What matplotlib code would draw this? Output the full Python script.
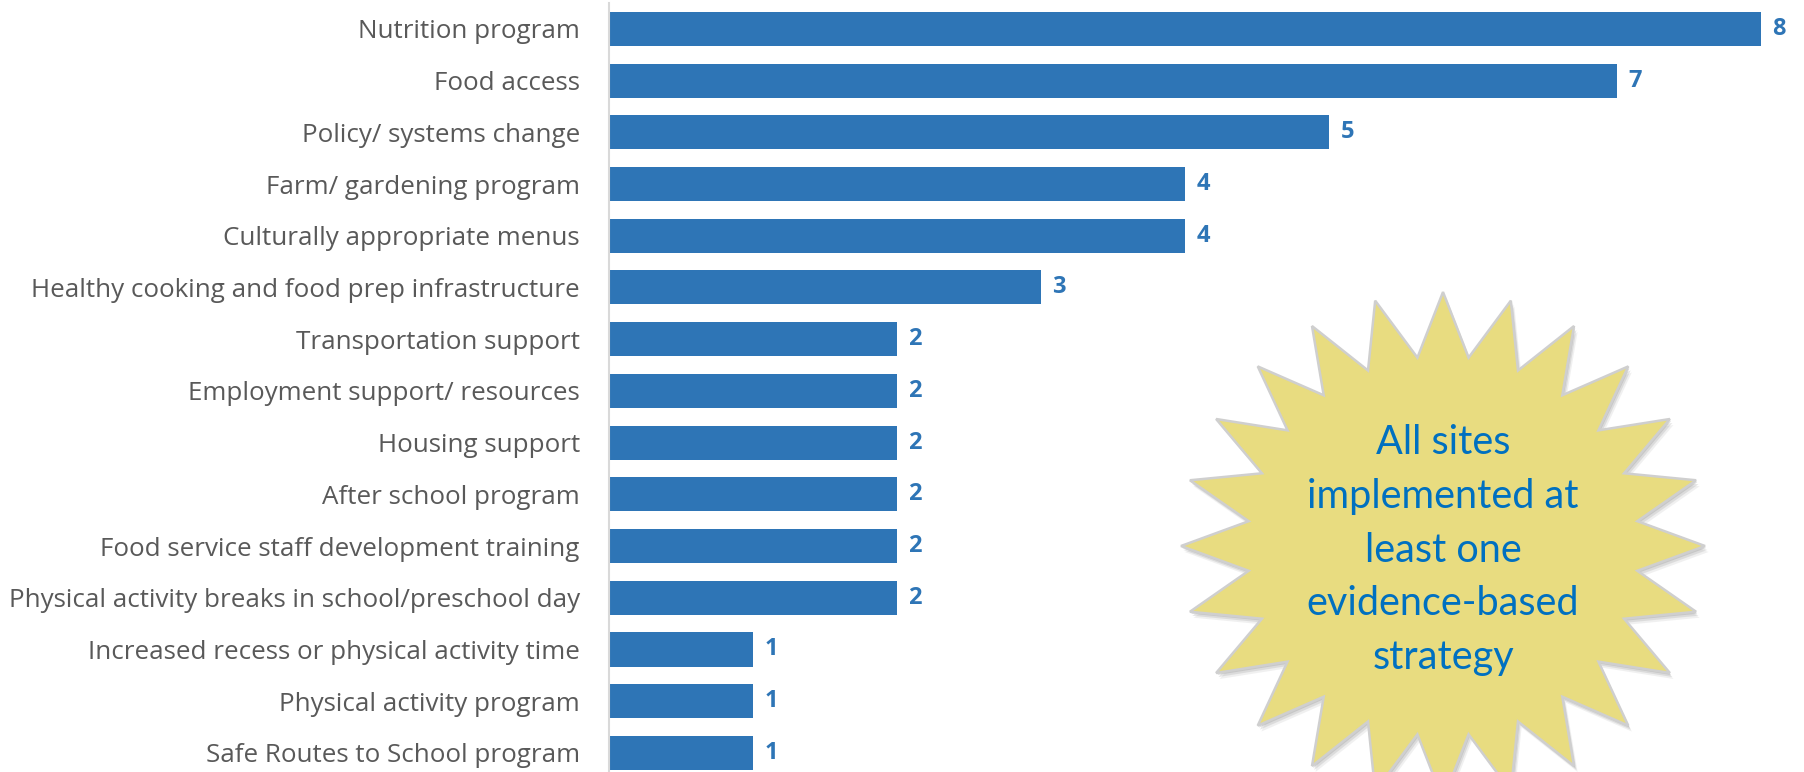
import numpy as np
import matplotlib
matplotlib.use("Agg")
import matplotlib.pyplot as plt
from matplotlib.patches import Polygon

categories = [
    "Nutrition program",
    "Food access",
    "Policy/ systems change",
    "Farm/ gardening program",
    "Culturally appropriate menus",
    "Healthy cooking and food prep infrastructure",
    "Transportation support",
    "Employment support/ resources",
    "Housing support",
    "After school program",
    "Food service staff development training",
    "Physical activity breaks in school/preschool day",
    "Increased recess or physical activity time",
    "Physical activity program",
    "Safe Routes to School program",
]
counts = [8, 7, 5, 4, 4, 3, 2, 2, 2, 2, 2, 2, 1, 1, 1]
star_text = "All sites\nimplemented at\nleast one\nevidence-based\nstrategy"

W, H = 1804, 772
bar_color = "#2E75B6"
label_color = "#595959"

fig = plt.figure(figsize=(W / 100, H / 100), dpi=100)
ax = fig.add_axes([609 / W, 0, (1804 - 609) / W, 769 / H])

y = np.arange(len(categories))
ax.barh(y, counts, height=0.66, color=bar_color)
for yi, v in zip(y, counts):
    ax.text(v + 0.08, yi, str(v), va="center", ha="left", fontsize=17,
            fontweight="bold", color=bar_color, family="Open Sans")

ax.set_xlim(0, 8.3)
ax.set_ylim(14.37, -0.5)
ax.set_yticks(y)
ax.set_yticklabels(categories, fontsize=18.7, color=label_color,
                   family="Open Sans")
ax.tick_params(axis="y", length=0, pad=21)
ax.set_xticks([])
for s in ["top", "right", "bottom"]:
    ax.spines[s].set_visible(False)
ax.spines["left"].set_color("#D9D9D9")
ax.spines["left"].set_linewidth(1.5)

# starburst callout, drawn in pixel coordinates
ov = fig.add_axes([0, 0, 1, 1])
ov.set_xlim(0, W)
ov.set_ylim(H, 0)
ov.axis("off")
cx, cy = 1443, 546
n = 24
k = np.arange(2 * n)
ang = np.pi / 2 + k * np.pi / n
rx = np.where(k % 2 == 0, 262, 196)
ry = np.where(k % 2 == 0, 254, 190)
pts = np.column_stack([cx + rx * np.cos(ang), cy - ry * np.sin(ang)])
for off, a in [(6, 0.15), (4, 0.25), (2, 0.35)]:
    ov.add_patch(Polygon(pts + [off * 0.6, off], closed=True,
                         facecolor="#A0A0A0", edgecolor="none", alpha=a))
star = Polygon(pts, closed=True, facecolor="#E8DC80", edgecolor="#CFCFCF",
               linewidth=1.8)
ov.add_patch(star)
ov.text(cx, 550, star_text, ha="center", va="center", fontsize=28.5,
        color="#0070C0", family="Lato", linespacing=1.56)

fig.savefig("out.png", dpi=100)
